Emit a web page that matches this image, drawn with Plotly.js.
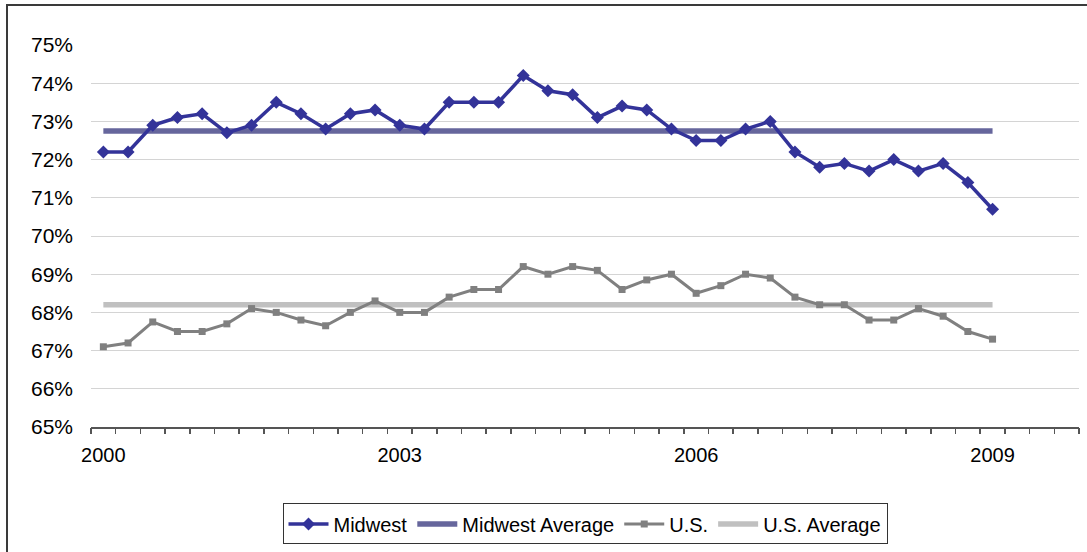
<!DOCTYPE html>
<html>
<head>
<meta charset="utf-8">
<script src="https://cdn.plot.ly/plotly-3.0.1.min.js"></script>
<style>
  html, body { margin: 0; padding: 0; background: #fff; overflow: hidden; }
  #wrap { position: relative; width: 1087px; height: 552px; overflow: hidden; }
  #chart { width: 1087px; height: 552px; }
  #frame { position: absolute; left: 6px; top: 4px; right: 0; bottom: 0;
           border-left: 2px solid #3a3a3a; border-top: 2px solid #3a3a3a; pointer-events: none; }
</style>
</head>
<body>
<div id="wrap">
  <div id="chart"></div>
  <div id="frame"></div>
</div>
<script>
// Quarterly categories 2000 Q1 .. 2009 Q4 (axis extends through 2009)
const years = [2000, 2001, 2002, 2003, 2004, 2005, 2006, 2007, 2008, 2009];
const quarters = ["Q1", "Q2", "Q3", "Q4"];
const categories = [];
years.forEach(y => quarters.forEach(q => categories.push(y + " " + q)));

// Tick labels
const tickLabelCats = ["2000 Q1", "2003 Q1", "2006 Q1", "2009 Q1"];
const tickLabels = ["2000", "2003", "2006", "2009"];

// Series values (percent), 2000 Q1 .. 2009 Q1
const midwest = [72.2, 72.2, 72.9, 73.1, 73.2, 72.7, 72.9, 73.5, 73.2, 72.8, 73.2, 73.3,
                 72.9, 72.8, 73.5, 73.5, 73.5, 74.2, 73.8, 73.7, 73.1, 73.4, 73.3, 72.8,
                 72.5, 72.5, 72.8, 73.0, 72.2, 71.8, 71.9, 71.7, 72.0, 71.7, 71.9, 71.4,
                 70.7];
const us = [67.1, 67.2, 67.75, 67.5, 67.5, 67.7, 68.1, 68.0, 67.8, 67.65, 68.0, 68.3,
            68.0, 68.0, 68.4, 68.6, 68.6, 69.2, 69.0, 69.2, 69.1, 68.6, 68.85, 69.0,
            68.5, 68.7, 69.0, 68.9, 68.4, 68.2, 68.2, 67.8, 67.8, 68.1, 67.9, 67.5,
            67.3];
const midwestAverage = 72.75;
const usAverage = 68.2;

const seriesNames = ["Midwest", "Midwest Average", "U.S.", "U.S. Average"];

const dataCats = categories.slice(0, midwest.length);
const avgCats = [dataCats[0], dataCats[dataCats.length - 1]];

const traces = [
  { x: dataCats, y: midwest, name: seriesNames[0], type: "scatter", mode: "lines+markers",
    line: { color: "#333399", width: 3.5 }, marker: { symbol: "diamond", size: 10, color: "#333399" } },
  { x: avgCats, y: [midwestAverage, midwestAverage], name: seriesNames[1], type: "scatter", mode: "lines",
    line: { color: "#66669c", width: 5.5 } },
  { x: dataCats, y: us, name: seriesNames[2], type: "scatter", mode: "lines+markers",
    line: { color: "#808080", width: 3 }, marker: { symbol: "square", size: 7, color: "#808080" } },
  { x: avgCats, y: [usAverage, usAverage], name: seriesNames[3], type: "scatter", mode: "lines",
    line: { color: "#c0c0c0", width: 5.5 } }
];
// order so markers draw on top of average lines
const ordered = [traces[1], traces[3], traces[0], traces[2]];
ordered.forEach((t, i) => t.legendrank = [2, 4, 1, 3][i]);

// boundary ticks between categories (overlay axis)
const boundaryTicks = [];
for (let i = 0; i <= categories.length; i++) boundaryTicks.push(i - 0.5);
// dummy invisible trace on overlay axis
ordered.push({ x: [0], y: [70], xaxis: "x2", type: "scatter", mode: "markers",
  marker: { opacity: 0 }, showlegend: false, hoverinfo: "skip" });

const font = "Liberation Sans, Arial, sans-serif";
const layout = {
  width: 1087, height: 552,
  margin: { l: 91, r: 8, t: 45, b: 125 },
  paper_bgcolor: "#ffffff", plot_bgcolor: "#ffffff",
  font: { family: font, size: 20, color: "#000000" },
  showlegend: true,
  legend: {
    orientation: "h", x: 0.5, xanchor: "center", y: -0.2, yanchor: "top",
    bordercolor: "#333333", borderwidth: 1, bgcolor: "#ffffff",
    font: { family: font, size: 20, color: "#000000" },
    traceorder: "normal", itemwidth: 40
  },
  xaxis: {
    type: "category", categoryorder: "array", categoryarray: categories,
    range: [-0.5, categories.length - 0.5],
    tickmode: "array", tickvals: tickLabelCats, ticktext: tickLabels,
    ticks: "", showgrid: false, zeroline: false,
    showline: true, linecolor: "#555555", linewidth: 1.5,
    tickfont: { family: font, size: 20, color: "#000000" },
    ticklabelstandoff: 9
  },
  xaxis2: {
    overlaying: "x", anchor: "y", side: "bottom", type: "linear",
    range: [-0.5, categories.length - 0.5],
    tickmode: "array", tickvals: boundaryTicks,
    ticks: "outside", ticklen: 6, tickwidth: 1.5, tickcolor: "#555555",
    showticklabels: false, showgrid: false, zeroline: false, showline: false
  },
  yaxis: {
    range: [65, 75], tickmode: "linear", tick0: 65, dtick: 1, ticksuffix: "%",
    showgrid: true, gridcolor: "#d4d4d4", gridwidth: 1,
    zeroline: false, showline: false, ticks: "",
    tickfont: { family: font, size: 21, color: "#000000" },
    ticklabelstandoff: 17
  }
};

Plotly.newPlot("chart", ordered, layout, { displayModeBar: false, staticPlot: true });
</script>
</body>
</html>
